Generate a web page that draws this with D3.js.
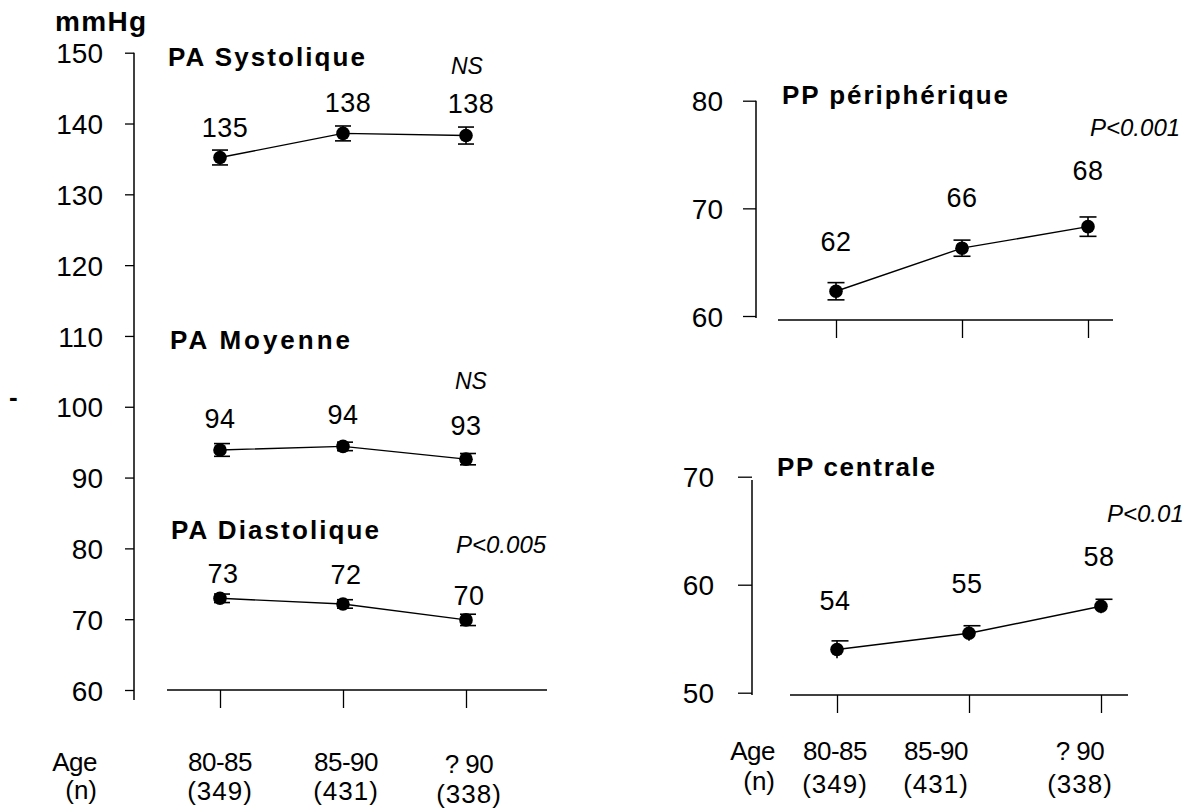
<!DOCTYPE html>
<html><head><meta charset="utf-8">
<script src="https://cdn.jsdelivr.net/npm/d3@7"></script>
<style>
body{margin:0;background:#fff}
svg{display:block}
text{font-family:"Liberation Sans",Arial,Helvetica,sans-serif;fill:#000}
</style>
</head><body>
<svg id="c" width="1201" height="810"></svg>
<script>
// ---------- data ----------
const categories = ["80-85", "85-90", "? 90"];
const counts = ["(349)", "(431)", "(338)"];

const leftTicks = [60, 70, 80, 90, 100, 110, 120, 130, 140, 150];
const ppPerTicks = [60, 70, 80];
const ppCenTicks = [50, 60, 70];

const sysMean = [135.2, 138.6, 138.3];
const sysErr = [1.05, 1.05, 1.2];
const sysLabels = ["135", "138", "138"];

const moyMean = [93.9, 94.4, 92.6];
const moyErr = [0.9, 0.6, 0.8];
const moyLabels = ["94", "94", "93"];

const diaMean = [72.95, 72.15, 69.9];
const diaErr = [0.6, 0.6, 0.8];
const diaLabels = ["73", "72", "70"];

const ppPerMean = [62.3, 66.3, 68.3];
const ppPerErr = [0.8, 0.75, 0.9];
const ppPerLabels = ["62", "66", "68"];

const ppCenMean = [54.0, 55.5, 58.0];
const ppCenErr = [0.8, 0.7, 0.65];
const ppCenLabels = ["54", "55", "58"];

// ---------- drawing ----------
const svg = d3.select("#c");

function txt(x, y, s, o = {}) {
  const t = svg.append("text").attr("x", x).attr("y", y).text(s)
    .style("font-size", (o.size || 26) + "px")
    .style("font-weight", o.bold ? "bold" : "normal")
    .style("font-style", o.italic ? "italic" : "normal")
    .attr("text-anchor", o.anchor || "start");
  if (o.ls) t.style("letter-spacing", o.ls + "px");
  if (o.len) t.attr("textLength", o.len).attr("lengthAdjust", "spacing");
  return t;
}

function yAxis(scale, ticks, axisX, tickLen, pad, y0, y1, size) {
  const g = svg.append("g").attr("transform", `translate(${axisX},0)`)
    .call(d3.axisLeft(scale).tickValues(ticks).tickSize(tickLen).tickPadding(pad).tickFormat(d3.format("d")));
  g.select(".domain").remove();
  g.selectAll(".tick line").attr("stroke", "#000").attr("stroke-width", 1.3);
  g.selectAll(".tick text").style("font-size", size + "px")
    .style("font-family", '"Liberation Sans",Arial,sans-serif').attr("fill", "#000").attr("dy", "0.36em");
  svg.append("line").attr("x1", axisX).attr("x2", axisX).attr("y1", y0).attr("y2", y1)
    .attr("stroke", "#000").attr("stroke-width", 1.5);
}

function xAxis(scale, axisY, x0, x1, tickLen) {
  const g = svg.append("g").attr("transform", `translate(0,${axisY})`)
    .call(d3.axisBottom(scale).tickSize(tickLen).tickFormat(""));
  g.select(".domain").remove();
  g.selectAll(".tick line").attr("stroke", "#000").attr("stroke-width", 1.3);
  svg.append("line").attr("x1", x0).attr("x2", x1).attr("y1", axisY).attr("y2", axisY)
    .attr("stroke", "#000").attr("stroke-width", 1.5);
}

function series(x, y, mean, err, labels, o) {
  const g = svg.append("g");
  const line = d3.line().x((d, i) => x(categories[i])).y(d => y(d));
  g.append("path").datum(mean).attr("d", line).attr("fill", "none")
    .attr("stroke", "#000").attr("stroke-width", 1.4);
  const cap = o.cap || 16;
  mean.forEach((m, i) => {
    const cx = x(categories[i]);
    const cxc = cx + (o.capShift || 0);
    g.append("line").attr("x1", cx).attr("x2", cx).attr("y1", y(m - err[i])).attr("y2", y(m + err[i]))
      .attr("stroke", "#000").attr("stroke-width", 1.6);
    g.append("line").attr("x1", cxc - cap / 2).attr("x2", cxc + cap / 2)
      .attr("y1", y(m + err[i])).attr("y2", y(m + err[i])).attr("stroke", "#000").attr("stroke-width", 1.6);
    if (!o.noBottomCap) {
      g.append("line").attr("x1", cxc - cap / 2).attr("x2", cxc + cap / 2)
        .attr("y1", y(m - err[i])).attr("y2", y(m - err[i])).attr("stroke", "#000").attr("stroke-width", 1.6);
    }
    g.append("circle").attr("cx", cx).attr("cy", y(m)).attr("r", 6.8).attr("fill", "#000");
    txt(cx + (o.ldx || 0), y(m) - (Array.isArray(o.ldy) ? o.ldy[i] : o.ldy), labels[i],
      { size: 27, anchor: "middle", ls: 0.5 });
  });
}

// ---------- left panel ----------
const yL = d3.scaleLinear().domain([60, 150]).range([690, 52.7]);
const xL = d3.scalePoint().domain(categories).range([220, 466]);

txt(55, 31, "mmHg", { size: 28, bold: true, len: 91 });
txt(9, 406, "-", { size: 26, bold: true });

yAxis(yL, leftTicks, 134, 9, 22, 52.7, 700, 28);
xAxis(xL, 690, 167, 547, 18);

txt(168, 66, "PA Systolique", { size: 26, bold: true, len: 197 });
txt(451, 74, "NS", { size: 23, italic: true });
series(xL, yL, sysMean, sysErr, sysLabels, { ldx: 5, ldy: [21, 21, 23] });

txt(170, 349, "PA Moyenne", { size: 26, bold: true, len: 180 });
txt(455, 389, "NS", { size: 23, italic: true });
series(xL, yL, moyMean, moyErr, moyLabels, { ldx: 0, ldy: [22, 22, 24], capShift: 2 });

txt(171, 539, "PA Diastolique", { size: 26, bold: true, len: 208 });
txt(456, 553, "P<0.005", { size: 24, italic: true });
series(xL, yL, diaMean, diaErr, diaLabels, { ldx: 3, ldy: [15, 20, 15], capShift: 2 });

// bottom labels left
txt(97, 771, "Age", { size: 26, anchor: "end", ls: -0.5 });
txt(97, 799, "(n)", { size: 26, anchor: "end" });
categories.forEach((c, i) => {
  txt(xL(c) + (i === 0 ? 0 : 3), 771 + (i === 2 ? 2 : 0), c, { size: 26, anchor: "middle", ls: -0.5 });
  txt(xL(c) + (i === 0 ? 0 : 3), 800 + (i === 2 ? 3 : 0), counts[i], { size: 26, anchor: "middle", ls: 1 });
});

// ---------- right top: PP périphérique ----------
const yP = d3.scaleLinear().domain([60, 80]).range([316, 100.7]);
const xP = d3.scalePoint().domain(categories).range([836, 1088]);
yAxis(yP, ppPerTicks, 756, 13, 20, 100.7, 318, 28);
xAxis(xP, 320, 778, 1113, 18);
txt(782, 104, "PP périphérique", { size: 26, bold: true, len: 226 });
txt(1090, 136, "P<0.001", { size: 24, italic: true });
series(xP, yP, ppPerMean, ppPerErr, ppPerLabels, { ldx: 0, ldy: [40, 41, 47], cap: 17 });

// ---------- right bottom: PP centrale ----------
const yC = d3.scaleLinear().domain([50, 70]).range([692.7, 476.7]);
const xC = d3.scalePoint().domain(categories).range([837, 1101]);
yAxis(yC, ppCenTicks, 752, 14, 24, 480, 695, 28);
xAxis(xC, 695, 790, 1128, 18);
txt(777, 476, "PP centrale", { size: 26, bold: true, len: 158 });
txt(1107, 522, "P<0.01", { size: 24, italic: true });
series(xC, yC, ppCenMean, ppCenErr, ppCenLabels, { ldx: -2, ldy: [40, 40, 40], cap: 17, capShift: 3, noBottomCap: true });

// bottom labels right
txt(775, 760, "Age", { size: 26, anchor: "end", ls: -0.5 });
txt(775, 790, "(n)", { size: 26, anchor: "end" });
const rightLabelShift = [-2, -33, -21];
categories.forEach((c, i) => {
  txt(xC(c) + rightLabelShift[i], 760, c, { size: 26, anchor: "middle", ls: -0.5 });
  txt(xC(c) + rightLabelShift[i], 793, counts[i], { size: 26, anchor: "middle", ls: 1 });
});
</script>
</body></html>
